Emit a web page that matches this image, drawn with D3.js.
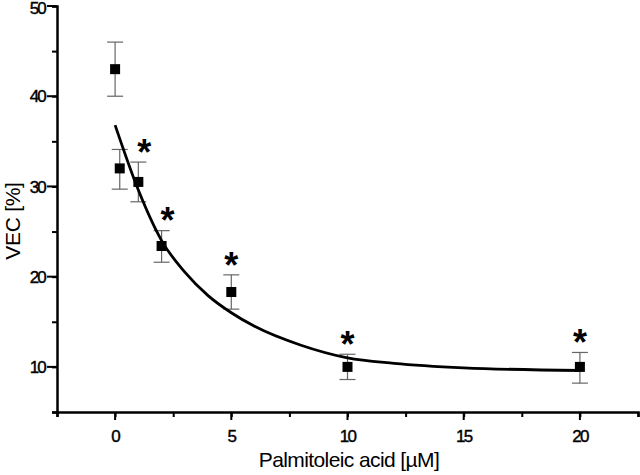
<!DOCTYPE html>
<html>
<head>
<meta charset="utf-8">
<script src="https://cdn.jsdelivr.net/npm/d3@7"></script>
<style>
  body { margin: 0; background: #fff; }
  text { font-family: "Liberation Sans", Arial, sans-serif; }
</style>
</head>
<body>
<script>
// measured points (concentration, mean, lower, upper)
const conc = [0, 0.2, 1, 2, 5, 10, 20];
const vec = [43, 32, 30.5, 23.4, 18.3, 10, 10];
const errLow = [40, 29.7, 28.3, 21.6, 16.4, 8.6, 8.2];
const errHigh = [46, 34.1, 32.7, 25.1, 20.2, 11.4, 11.6];
const signif = [false, false, true, true, true, true, true];

// fitted curve
const curveX = [0, 1, 2, 3, 4, 5, 6, 8, 10, 12, 15, 20];
const curveY = [36.8, 29.6, 24.0, 20.5, 17.9, 16.0, 14.5, 12.4, 11.0, 10.4, 9.9, 9.6];

const xTicks = [0, 5, 10, 15, 20];
const yTicks = [10, 20, 30, 40, 50];

const width = 640;
const height = 475;
const margin = { top: 6, right: 2, bottom: 63, left: 57 };

const svg = d3.select('body')
  .append('svg')
  .attr('width', width)
  .attr('height', height);

const x = d3.scaleLinear()
  .domain([-2.5, 22.5])
  .range([margin.left, width - margin.right]);
const y = d3.scaleLinear()
  .domain([5, 50])
  .range([height - margin.bottom, margin.top]);

// x axis
const xAxis = svg.append('g')
  .attr('transform', `translate(0,${height - margin.bottom})`)
  .call(d3.axisBottom(x).tickValues(d3.range(-2.5, 22.6, 2.5)).tickSize(5).tickFormat(''));
xAxis.select('.domain').attr('stroke-width', 2.5);
xAxis.selectAll('.tick line').attr('stroke-width', 2);
xAxis.append('g')
  .call(g => g.selectAll('line.major')
    .data(xTicks)
    .join('line')
    .attr('x1', d => x(d)).attr('x2', d => x(d))
    .attr('y1', 0).attr('y2', 8)
    .attr('stroke', '#000').attr('stroke-width', 2));
xAxis.selectAll('text.lbl')
  .data(xTicks)
  .join('text')
  .attr('x', d => x(d))
  .attr('y', 30)
  .attr('text-anchor', 'middle')
  .attr('font-size', 17)
  .attr('letter-spacing', -1.8)
  .attr('fill', '#000')
  .attr('stroke', '#000')
  .attr('stroke-width', 0.4)
  .text(d => d);

// y axis
const yAxis = svg.append('g')
  .attr('transform', `translate(${margin.left},0)`)
  .call(d3.axisLeft(y).tickValues(d3.range(5, 50.1, 5)).tickSize(5).tickFormat(''));
yAxis.select('.domain').attr('stroke-width', 2.5);
yAxis.selectAll('.tick line').attr('stroke-width', 2);
yAxis.append('g')
  .call(g => g.selectAll('line.major')
    .data(yTicks)
    .join('line')
    .attr('y1', d => y(d)).attr('y2', d => y(d))
    .attr('x1', 0).attr('x2', -10)
    .attr('stroke', '#000').attr('stroke-width', 2));
yAxis.selectAll('text.lbl')
  .data(yTicks)
  .join('text')
  .attr('x', -12)
  .attr('y', d => y(d))
  .attr('dy', d => d === 50 ? '0.45em' : '0.36em')
  .attr('text-anchor', 'end')
  .attr('font-size', 17)
  .attr('letter-spacing', -1.8)
  .attr('fill', '#000')
  .attr('stroke', '#000')
  .attr('stroke-width', 0.4)
  .text(d => d);

// axis titles
svg.append('text')
  .attr('x', 349)
  .attr('y', 467)
  .attr('text-anchor', 'middle')
  .attr('font-size', 21)
  .attr('letter-spacing', -0.6)
  .text('Palmitoleic acid [µM]');

svg.append('text')
  .attr('transform', `translate(20,221) rotate(-90)`)
  .attr('text-anchor', 'middle')
  .attr('font-size', 21)
  .attr('letter-spacing', -0.3)
  .text('VEC [%]');

// error bars
const pts = conc.map((c, i) => ({ c, v: vec[i], lo: errLow[i], hi: errHigh[i], s: signif[i] }));
const eb = svg.append('g').attr('stroke', '#666').attr('stroke-width', 1.2);
eb.selectAll('line.v')
  .data(pts)
  .join('line')
  .attr('x1', d => x(d.c)).attr('x2', d => x(d.c))
  .attr('y1', d => y(d.lo)).attr('y2', d => y(d.hi));
eb.selectAll('line.t')
  .data(pts)
  .join('line')
  .attr('x1', d => x(d.c) - 8).attr('x2', d => x(d.c) + 8)
  .attr('y1', d => y(d.hi)).attr('y2', d => y(d.hi));
eb.selectAll('line.b')
  .data(pts)
  .join('line')
  .attr('x1', d => x(d.c) - 8).attr('x2', d => x(d.c) + 8)
  .attr('y1', d => y(d.lo)).attr('y2', d => y(d.lo));

// fitted curve
const line = d3.line()
  .x(d => x(d[0]))
  .y(d => y(d[1]))
  .curve(d3.curveMonotoneX);
svg.append('path')
  .datum(curveX.map((c, i) => [c, curveY[i]]))
  .attr('d', line)
  .attr('fill', 'none')
  .attr('stroke', '#000')
  .attr('stroke-width', 2.8);

// squares
svg.selectAll('rect.pt')
  .data(pts)
  .join('rect')
  .attr('x', d => x(d.c) - 5)
  .attr('y', d => y(d.v) - 5)
  .attr('width', 10)
  .attr('height', 10)
  .attr('fill', '#000');

// significance stars
svg.selectAll('text.star')
  .data(pts.filter(d => d.s))
  .join('text')
  .attr('x', d => x(d.c) + (d.c < 3 ? 6 : 0))
  .attr('y', d => y(d.hi) - 3)
  .attr('text-anchor', 'middle')
  .attr('font-size', 36)
  .attr('font-weight', 'bold')
  .attr('dy', '0.55em')
  .attr('transform', 'translate(0,-14)')
  .text('*');
</script>
</body>
</html>
